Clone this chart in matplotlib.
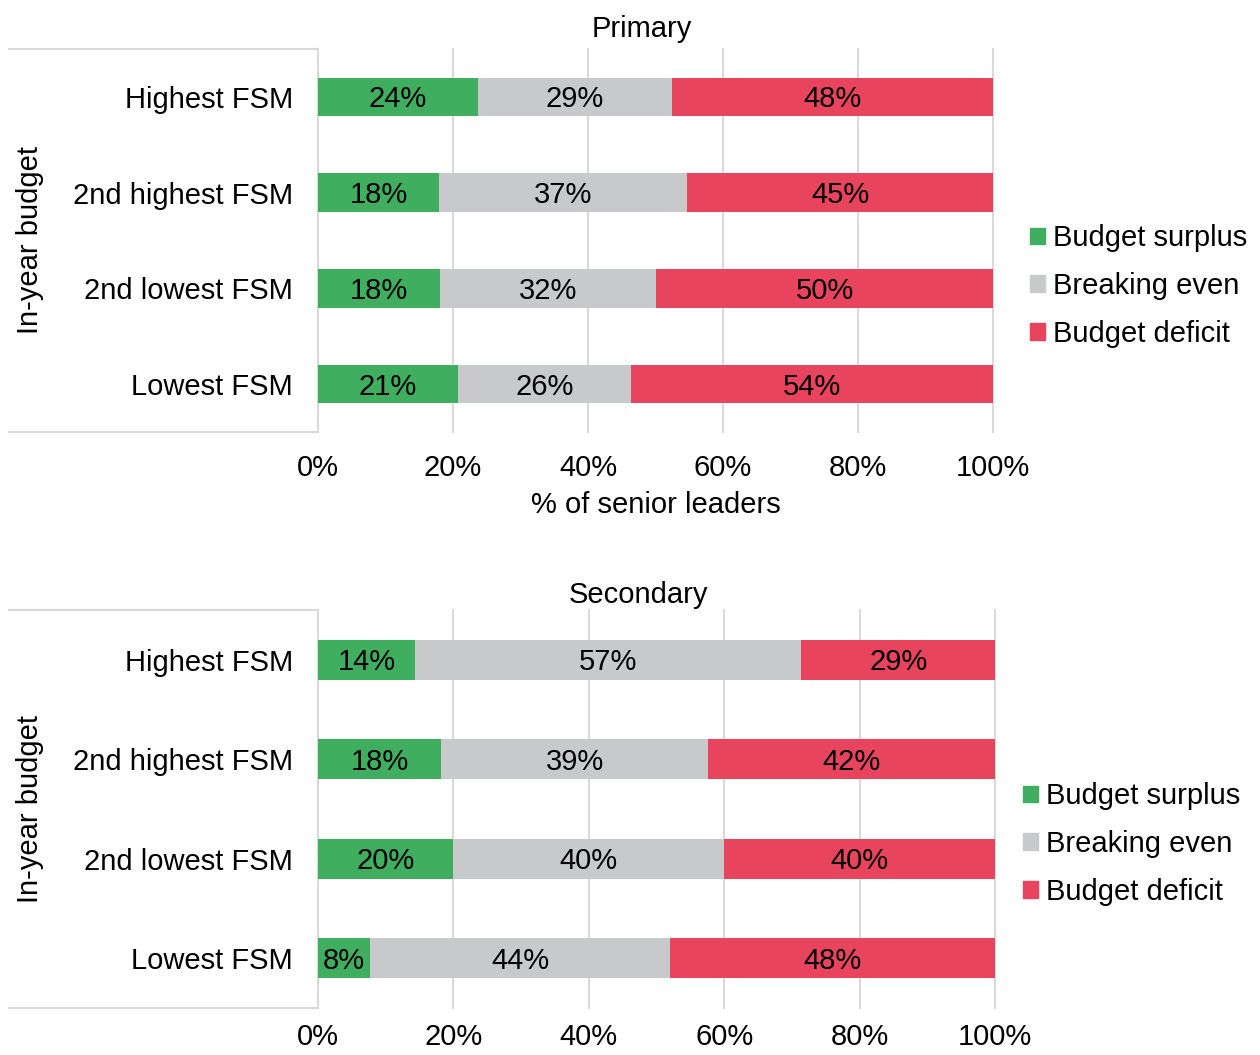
import matplotlib
matplotlib.use("Agg")
import matplotlib.pyplot as plt
from matplotlib.patches import Patch
import numpy as np

plt.rcParams['font.family'] = ['Liberation Sans', 'DejaVu Sans']

groups = ["Highest FSM", "2nd highest FSM", "2nd lowest FSM", "Lowest FSM"]
series = ["Budget surplus", "Breaking even", "Budget deficit"]
colors = ["#3FAE5F", "#C8C9CB", "#E8445E"]

# Primary (% of senior leaders)
prim_surplus = [23.7, 17.9, 18.1, 20.7]
prim_even = [28.7, 36.8, 32.0, 25.7]
prim_deficit = [47.6, 45.3, 49.9, 53.6]

# Secondary
sec_surplus = [14.3, 18.2, 19.9, 7.7]
sec_even = [57.1, 39.4, 40.1, 44.3]
sec_deficit = [28.6, 42.4, 40.0, 48.0]

xticks = [0, 20, 40, 60, 80, 100]
xticklabels = ["0%", "20%", "40%", "60%", "80%", "100%"]

W, H = 1260, 1055
FS = 21
fig = plt.figure(figsize=(W / 100, H / 100), dpi=100)


def panel(left, right, top, bottom, title, title_y, title_x, vals, legend_x, legend_y,
          xlabel=None, xpad=16):
    ax = fig.add_axes([left / W, 1 - bottom / H, (right - left) / W, (bottom - top) / H])
    y = np.arange(len(groups))
    start = np.zeros(len(groups))
    for v, c in zip(vals, colors):
        v = np.array(v)
        ax.barh(y, v, left=start, height=0.4, color=c, zorder=3)
        for yi, s, w in zip(y, start, v):
            ax.text(s + w / 2, yi + 0.025, f"{w:.0f}%", ha="center", va="center", fontsize=FS, zorder=4)
        start = start + v
    ax.set_xlim(0, 100)
    ax.set_ylim(len(groups) - 0.5, -0.5)
    ax.set_yticks(y)
    ax.set_yticklabels(groups, fontsize=FS)
    ax.set_xticks(xticks)
    ax.set_xticklabels(xticklabels, fontsize=FS)
    ax.tick_params(axis="both", length=0)
    ax.tick_params(axis="y", pad=18)
    ax.tick_params(axis="x", pad=xpad)
    for s in ax.spines.values():
        s.set_visible(False)
    for xt in xticks:
        ax.axvline(xt, color="#D9D9D9", lw=1.5, zorder=1, clip_on=False)
    # category axis box lines
    ext = -(left - 9) / (right - left)
    for yy in (0, 1):
        ax.plot([ext, 0], [yy, yy], transform=ax.transAxes, color="#D9D9D9", lw=1.5, clip_on=False)
    if xlabel:
        ax.set_xlabel(xlabel, fontsize=FS, labelpad=6)
    fig.text(title_x / W, 1 - title_y / H, title, ha="center", va="center", fontsize=FS)
    fig.text(30 / W, 1 - ((top + bottom) / 2) / H, "In-year budget", rotation=90,
             ha="center", va="center", fontsize=FS)
    handles = [Patch(color=c, label=s) for s, c in zip(series, colors)]
    fig.legend(handles=handles, loc="center left", bbox_to_anchor=(legend_x / W, 1 - legend_y / H),
               frameon=False, fontsize=FS, handlelength=0.5, handleheight=0.5,
               handletextpad=0.3, labelspacing=0.68, borderpad=0, borderaxespad=0)
    return ax


panel(318, 993, 49, 432, "Primary", 29, 642, [prim_surplus, prim_even, prim_deficit], 1030, 286,
      xlabel="% of senior leaders")
panel(318, 995, 610, 1008, "Secondary", 595, 638, [sec_surplus, sec_even, sec_deficit], 1023, 844,
      xpad=11)

fig.savefig("out.png", dpi=100)
